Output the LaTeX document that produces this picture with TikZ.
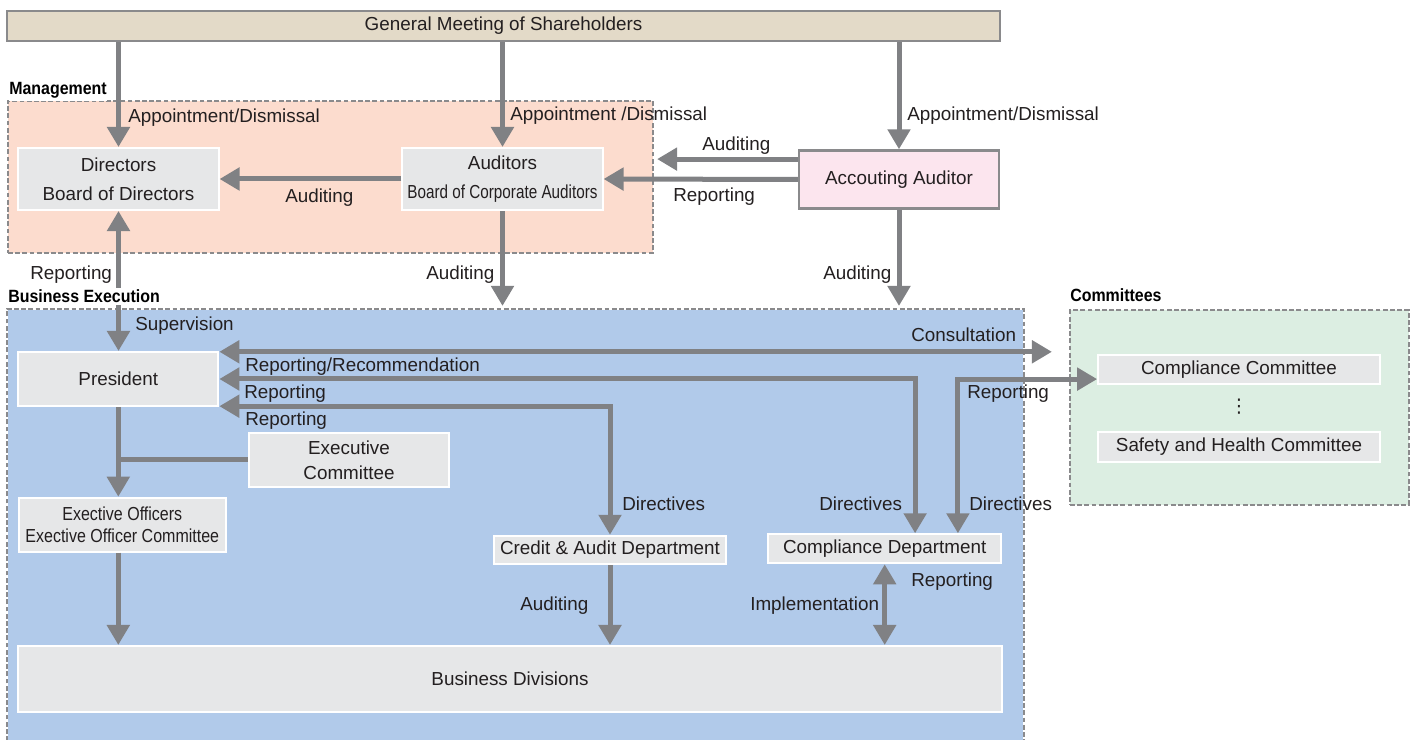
\documentclass[tikz,border=0pt]{standalone}
\usepackage{fontspec}
\setmainfont{Liberation Sans}
\newfontfamily\dotsfont{DejaVu Sans}
\usepackage{graphicx}
\usepackage{xcolor}
\usetikzlibrary{arrows.meta}

\definecolor{boxgray}{HTML}{E6E7E8}
\definecolor{arrowgray}{HTML}{808184}
\definecolor{framegray}{HTML}{8A8A8C}
\definecolor{inkgray}{HTML}{231F20}
\definecolor{meetfill}{HTML}{E3DAC8}
\definecolor{mgmtfill}{HTML}{FCDCCE}
\definecolor{execfill}{HTML}{B1CAEA}
\definecolor{commfill}{HTML}{DCEEE2}
\definecolor{acctfill}{HTML}{FCE5EE}

\begin{document}
\begin{tikzpicture}[x=0.025cm, y=-0.025cm, text=inkgray,
    font=\fontsize{13.4pt}{16pt}\selectfont,
    unit/.style={fill=boxgray, draw=white, line width=0.5mm, inner sep=0pt, align=center},
    area/.style={inner sep=0pt, line width=0.5mm, dash pattern=on 1.2mm off 0.6mm},
    areatitle/.style={anchor=base west, inner xsep=0pt, inner ysep=1.5pt, fill=white, font=\fontsize{12.6pt}{15pt}\selectfont\bfseries, text=black},
    lbl/.style={anchor=base west, inner sep=0pt},
    joint/.style={draw=arrowgray, line width=1.25mm},
    conn/.style={joint, -{Triangle[length=5mm, width=5.5mm]}},
    twoway/.style={joint, {Triangle[length=5mm, width=5.5mm]}-{Triangle[length=5mm, width=5.5mm]}}]

  \useasboundingbox (0,0) rectangle (1416,740);

  \node[area, draw=framegray, fill=mgmtfill, minimum width=16.125cm, minimum height=3.8cm] (mgmt) at (330.5,177) {};
  \node[area, fill=execfill, minimum width=25.375cm, minimum height=10.75cm] (bizexec) at (515.5,525) {};
  \draw[area, draw=framegray] (bizexec.south west) -- (bizexec.north west) -- (bizexec.north east) -- (bizexec.south east);
  \node[area, draw=framegray, fill=commfill, minimum width=8.475cm, minimum height=4.85cm] (committees) at (1239.5,407.5) {};

  \node[draw=framegray, fill=meetfill, line width=0.6mm, minimum width=24.825cm, minimum height=0.75cm, inner sep=0pt] (meeting) at (503.5,26) {General Meeting of Shareholders};
  \node[unit, minimum width=5cm, minimum height=1.55cm, font=\fontsize{13.4pt}{20.6pt}\selectfont] (directors) at (118.5,179) {Directors\\Board of Directors};
  \node[unit, minimum width=5cm, minimum height=1.55cm, font=\fontsize{13.4pt}{20.6pt}\selectfont] (auditors) at (502.5,179) {Auditors\\\scalebox{0.81}[1]{Board of Corporate Auditors}};
  \node[draw=framegray, fill=acctfill, line width=0.6mm, minimum width=5cm, minimum height=1.45cm, inner sep=0pt] (acctauditor) at (899,179.5) {Accouting Auditor};

  \node[unit, minimum width=5cm, minimum height=1.35cm] (president) at (118.3,379) {President};
  \node[unit, minimum width=5cm, minimum height=1.365cm, font=\fontsize{13.4pt}{17.7pt}\selectfont] (execcom) at (349,460) {Executive\\Committee};
  \node[unit, minimum width=5.17cm, minimum height=1.35cm, font=\fontsize{13.4pt}{15.6pt}\selectfont] (officers) at (122.3,524.7) {\scalebox{0.85}[1]{Exective Officers}\\\scalebox{0.85}[1]{Exective Officer Committee}};
  \node[unit, minimum width=5.8cm, minimum height=0.71cm] (creditaudit) at (610,550) {Credit \& Audit Department};
  \node[unit, minimum width=5.83cm, minimum height=0.725cm] (compdept) at (884.7,548.8) {Compliance Department};
  \node[unit, minimum width=24.57cm, minimum height=1.65cm] (divisions) at (510,679) {Business Divisions};

  \node[unit, minimum width=7.04cm, minimum height=0.725cm] (compcom) at (1239,369.5) {Compliance Committee};
  \node (ellipsis) at (1239,407) {\dotsfont ⋮};
  \node[unit, minimum width=7.04cm, minimum height=0.75cm] (safety) at (1239,446.7) {Safety and Health Committee};

  \coordinate (acctaudit) at ([yshift=5.1mm]acctauditor.west);
  \coordinate (consult) at ([yshift=6.8mm]president.east);
  \coordinate (creditreport) at ([yshift=-6.8mm]president.east);
  \coordinate (compreport) at ([yshift=-2.4mm]compcom.west);

  \draw[conn] (meeting.south -| directors.north) -- (directors.north);
  \draw[conn] (meeting.south -| auditors.north) -- (auditors.north);
  \draw[conn] (meeting.south -| acctauditor.north) -- (acctauditor.north);
  \draw[conn, shorten >=0.75mm] (acctaudit) -- (acctaudit -| mgmt.east);
  \draw[conn] (acctauditor.west) -- (auditors.east);
  \draw[conn] (auditors.west) -- (directors.east);
  \draw[twoway] (directors.south) -- (directors.south |- president.north);
  \draw[conn, shorten >=0.75mm] (auditors.south) -- (auditors.south |- bizexec.north);
  \draw[conn, shorten >=0.75mm] (acctauditor.south) -- (acctauditor.south |- bizexec.north);

  \draw[twoway, shorten >=4.25mm] (consult) -- (consult -| committees.west);
  \draw[twoway] (president.east) -| ([xshift=7.6mm]compdept.north);
  \draw[twoway] (creditreport) -| (creditaudit.north);
  \draw[twoway] (compreport) -| ([xshift=18.3mm]compdept.north);
  \draw[conn] (president.south) -- (president.south |- officers.north);
  \draw[joint] (execcom.west) -- (execcom.west -| president.south);
  \draw[conn] (president.south |- officers.south) -- (president.south |- divisions.north);
  \draw[conn] (creditaudit.south) -- (creditaudit.south |- divisions.north);
  \draw[twoway] (compdept.south) -- (compdept.south |- divisions.north);

  \node[areatitle] (mgmttitle) at (9,95) {\scalebox{0.9}[1]{Management}};
  \node[areatitle] (bizexectitle) at (8,303) {\scalebox{0.9}[1]{Business Execution}};
  \node[areatitle] (committeestitle) at (1070,302) {\scalebox{0.9}[1]{Committees}};

  \node[lbl] (appdirectors) at (128,123) {Appointment/Dismissal};
  \node[lbl] (appauditors) at (510,121) {Appointment /Dismissal};
  \node[lbl] (appacct) at (907,121) {Appointment/Dismissal};
  \node[lbl] (auditmgmt) at (702,151) {Auditing};
  \node[lbl] (reportauditors) at (673,202) {Reporting};
  \node[lbl] (auditdirectors) at (285,203) {Auditing};
  \node[lbl] (reportdirectors) at (30,280) {Reporting};
  \node[lbl] (supervision) at (135,331) {Supervision};
  \node[lbl] (auditexec) at (426,280) {Auditing};
  \node[lbl] (auditacct) at (823,280) {Auditing};
  \node[lbl] (consultation) at (911,342) {Consultation};
  \node[lbl] (recommend) at (245,372) {Reporting/Recommendation};
  \node[lbl] (reportpres) at (244,399) {Reporting};
  \node[lbl] (reportcredit) at (245,426) {Reporting};
  \node[lbl] (reportcomm) at (967,399) {Reporting};
  \node[lbl] (dircredit) at (622,511) {Directives};
  \node[lbl] (dircomp) at (819,511) {Directives};
  \node[lbl] (dircomm) at (969,511) {Directives};
  \node[lbl] (auditdiv) at (520,611) {Auditing};
  \node[lbl] (implement) at (750,611) {Implementation};
  \node[lbl] (reportdiv) at (911,587) {Reporting};

\end{tikzpicture}
\end{document}
